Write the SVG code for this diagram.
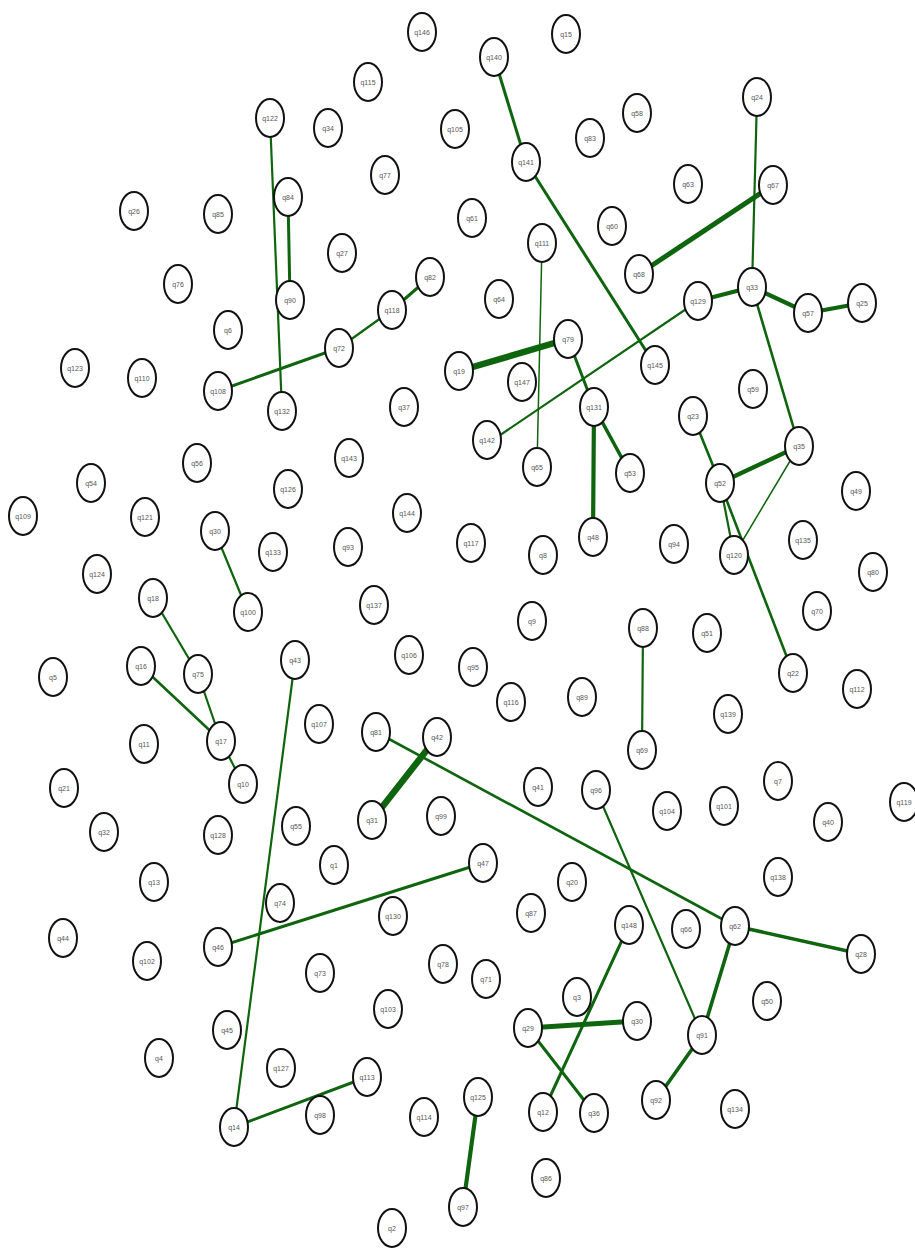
<svg xmlns="http://www.w3.org/2000/svg" width="915" height="1248" viewBox="0 0 915 1248">
<style>
.e line{stroke:#0e650e;stroke-linecap:round}
.n ellipse{fill:#fff;stroke:#111;stroke-width:2}
.n text{font-family:"Liberation Sans",Arial,sans-serif;font-size:7px;fill:#555;text-anchor:middle}
.w1{stroke-width:1.5}.w2{stroke-width:2.2}.w25{stroke-width:2.6}.w3{stroke-width:3}.w35{stroke-width:3.6}.w4{stroke-width:4.2}.w5{stroke-width:5}.w6{stroke-width:6.5}
</style>
<rect width="915" height="1248" fill="#fff"/>
<g id="connectors" class="e">
<line class="w3" x1="494" y1="57" x2="526" y2="162"/>
<line class="w3" x1="526" y1="162" x2="655" y2="365"/>
<line class="w2" x1="270" y1="118" x2="282" y2="411"/>
<line class="w3" x1="288" y1="197" x2="290" y2="300"/>
<line class="w3" x1="430" y1="277" x2="392" y2="310"/>
<line class="w2" x1="392" y1="310" x2="339" y2="348"/>
<line class="w3" x1="339" y1="348" x2="218" y2="391"/>
<line class="w1" x1="542" y1="243" x2="537" y2="467"/>
<line class="w6" x1="459" y1="371" x2="568" y2="339"/>
<line class="w3" x1="568" y1="339" x2="594" y2="407"/>
<line class="w35" x1="594" y1="407" x2="630" y2="473"/>
<line class="w4" x1="594" y1="407" x2="593" y2="537"/>
<line class="w2" x1="698" y1="301" x2="487" y2="444"/>
<line class="w2" x1="757" y1="97" x2="752" y2="287"/>
<line class="w5" x1="773" y1="185" x2="639" y2="274"/>
<line class="w4" x1="698" y1="301" x2="752" y2="287"/>
<line class="w4" x1="752" y1="287" x2="808" y2="313"/>
<line class="w4" x1="808" y1="313" x2="862" y2="303"/>
<line class="w25" x1="752" y1="287" x2="799" y2="446"/>
<line class="w25" x1="693" y1="416" x2="720" y2="483"/>
<line class="w4" x1="720" y1="483" x2="799" y2="446"/>
<line class="w1" x1="799" y1="446" x2="734" y2="555"/>
<line class="w2" x1="720" y1="483" x2="734" y2="555"/>
<line class="w25" x1="720" y1="483" x2="793" y2="673"/>
<line class="w2" x1="215" y1="532" x2="248" y2="612"/>
<line class="w2" x1="153" y1="598" x2="198" y2="674"/>
<line class="w2" x1="198" y1="674" x2="221" y2="741"/>
<line class="w25" x1="141" y1="666" x2="221" y2="741"/>
<line class="w2" x1="221" y1="741" x2="243" y2="784"/>
<line class="w2" x1="295" y1="660" x2="234" y2="1127"/>
<line class="w25" x1="376" y1="732" x2="735" y2="926"/>
<line class="w6" x1="437" y1="737" x2="372" y2="820"/>
<line class="w3" x1="483" y1="863" x2="218" y2="947"/>
<line class="w2" x1="643" y1="628" x2="642" y2="750"/>
<line class="w2" x1="596" y1="790" x2="702" y2="1035"/>
<line class="w35" x1="735" y1="926" x2="861" y2="954"/>
<line class="w35" x1="735" y1="926" x2="702" y2="1035"/>
<line class="w35" x1="702" y1="1035" x2="656" y2="1100"/>
<line class="w3" x1="629" y1="925" x2="543" y2="1112"/>
<line class="w5" x1="528" y1="1028" x2="637" y2="1021"/>
<line class="w3" x1="528" y1="1028" x2="594" y2="1113"/>
<line class="w3" x1="367" y1="1077" x2="234" y2="1127"/>
<line class="w4" x1="478" y1="1097" x2="463" y2="1207"/>
</g>
<g id="q146" class="n"><ellipse cx="422" cy="32" rx="14" ry="19"/><text x="422" y="34.5">q146</text></g>
<g id="q15" class="n"><ellipse cx="566" cy="34" rx="14" ry="19"/><text x="566" y="36.5">q15</text></g>
<g id="q140" class="n"><ellipse cx="494" cy="57" rx="14" ry="19"/><text x="494" y="59.5">q140</text></g>
<g id="q115" class="n"><ellipse cx="368" cy="82" rx="14" ry="19"/><text x="368" y="84.5">q115</text></g>
<g id="q24" class="n"><ellipse cx="757" cy="97" rx="14" ry="19"/><text x="757" y="99.5">q24</text></g>
<g id="q58" class="n"><ellipse cx="637" cy="113" rx="14" ry="19"/><text x="637" y="115.5">q58</text></g>
<g id="q122" class="n"><ellipse cx="270" cy="118" rx="14" ry="19"/><text x="270" y="120.5">q122</text></g>
<g id="q34" class="n"><ellipse cx="328" cy="128" rx="14" ry="19"/><text x="328" y="130.5">q34</text></g>
<g id="q105" class="n"><ellipse cx="455" cy="129" rx="14" ry="19"/><text x="455" y="131.5">q105</text></g>
<g id="q83" class="n"><ellipse cx="590" cy="138" rx="14" ry="19"/><text x="590" y="140.5">q83</text></g>
<g id="q141" class="n"><ellipse cx="526" cy="162" rx="14" ry="19"/><text x="526" y="164.5">q141</text></g>
<g id="q77" class="n"><ellipse cx="385" cy="175" rx="14" ry="19"/><text x="385" y="177.5">q77</text></g>
<g id="q63" class="n"><ellipse cx="688" cy="184" rx="14" ry="19"/><text x="688" y="186.5">q63</text></g>
<g id="q67" class="n"><ellipse cx="773" cy="185" rx="14" ry="19"/><text x="773" y="187.5">q67</text></g>
<g id="q84" class="n"><ellipse cx="288" cy="197" rx="14" ry="19"/><text x="288" y="199.5">q84</text></g>
<g id="q26" class="n"><ellipse cx="134" cy="211" rx="14" ry="19"/><text x="134" y="213.5">q26</text></g>
<g id="q85" class="n"><ellipse cx="218" cy="214" rx="14" ry="19"/><text x="218" y="216.5">q85</text></g>
<g id="q61" class="n"><ellipse cx="472" cy="218" rx="14" ry="19"/><text x="472" y="220.5">q61</text></g>
<g id="q60" class="n"><ellipse cx="612" cy="226" rx="14" ry="19"/><text x="612" y="228.5">q60</text></g>
<g id="q111" class="n"><ellipse cx="542" cy="243" rx="14" ry="19"/><text x="542" y="245.5">q111</text></g>
<g id="q27" class="n"><ellipse cx="342" cy="253" rx="14" ry="19"/><text x="342" y="255.5">q27</text></g>
<g id="q68" class="n"><ellipse cx="639" cy="274" rx="14" ry="19"/><text x="639" y="276.5">q68</text></g>
<g id="q82" class="n"><ellipse cx="430" cy="277" rx="14" ry="19"/><text x="430" y="279.5">q82</text></g>
<g id="q76" class="n"><ellipse cx="178" cy="284" rx="14" ry="19"/><text x="178" y="286.5">q76</text></g>
<g id="q33" class="n"><ellipse cx="752" cy="287" rx="14" ry="19"/><text x="752" y="289.5">q33</text></g>
<g id="q64" class="n"><ellipse cx="499" cy="299" rx="14" ry="19"/><text x="499" y="301.5">q64</text></g>
<g id="q90" class="n"><ellipse cx="290" cy="300" rx="14" ry="19"/><text x="290" y="302.5">q90</text></g>
<g id="q129" class="n"><ellipse cx="698" cy="301" rx="14" ry="19"/><text x="698" y="303.5">q129</text></g>
<g id="q25" class="n"><ellipse cx="862" cy="303" rx="14" ry="19"/><text x="862" y="305.5">q25</text></g>
<g id="q118" class="n"><ellipse cx="392" cy="310" rx="14" ry="19"/><text x="392" y="312.5">q118</text></g>
<g id="q57" class="n"><ellipse cx="808" cy="313" rx="14" ry="19"/><text x="808" y="315.5">q57</text></g>
<g id="q6" class="n"><ellipse cx="228" cy="330" rx="14" ry="19"/><text x="228" y="332.5">q6</text></g>
<g id="q79" class="n"><ellipse cx="568" cy="339" rx="14" ry="19"/><text x="568" y="341.5">q79</text></g>
<g id="q72" class="n"><ellipse cx="339" cy="348" rx="14" ry="19"/><text x="339" y="350.5">q72</text></g>
<g id="q145" class="n"><ellipse cx="655" cy="365" rx="14" ry="19"/><text x="655" y="367.5">q145</text></g>
<g id="q123" class="n"><ellipse cx="75" cy="368" rx="14" ry="19"/><text x="75" y="370.5">q123</text></g>
<g id="q19" class="n"><ellipse cx="459" cy="371" rx="14" ry="19"/><text x="459" y="373.5">q19</text></g>
<g id="q110" class="n"><ellipse cx="142" cy="378" rx="14" ry="19"/><text x="142" y="380.5">q110</text></g>
<g id="q147" class="n"><ellipse cx="522" cy="382" rx="14" ry="19"/><text x="522" y="384.5">q147</text></g>
<g id="q59" class="n"><ellipse cx="753" cy="389" rx="14" ry="19"/><text x="753" y="391.5">q59</text></g>
<g id="q108" class="n"><ellipse cx="218" cy="391" rx="14" ry="19"/><text x="218" y="393.5">q108</text></g>
<g id="q37" class="n"><ellipse cx="404" cy="407" rx="14" ry="19"/><text x="404" y="409.5">q37</text></g>
<g id="q131" class="n"><ellipse cx="594" cy="407" rx="14" ry="19"/><text x="594" y="409.5">q131</text></g>
<g id="q132" class="n"><ellipse cx="282" cy="411" rx="14" ry="19"/><text x="282" y="413.5">q132</text></g>
<g id="q23" class="n"><ellipse cx="693" cy="416" rx="14" ry="19"/><text x="693" y="418.5">q23</text></g>
<g id="q142" class="n"><ellipse cx="487" cy="440" rx="14" ry="19"/><text x="487" y="442.5">q142</text></g>
<g id="q35" class="n"><ellipse cx="799" cy="446" rx="14" ry="19"/><text x="799" y="448.5">q35</text></g>
<g id="q143" class="n"><ellipse cx="349" cy="458" rx="14" ry="19"/><text x="349" y="460.5">q143</text></g>
<g id="q56" class="n"><ellipse cx="197" cy="463" rx="14" ry="19"/><text x="197" y="465.5">q56</text></g>
<g id="q65" class="n"><ellipse cx="537" cy="467" rx="14" ry="19"/><text x="537" y="469.5">q65</text></g>
<g id="q53" class="n"><ellipse cx="630" cy="473" rx="14" ry="19"/><text x="630" y="475.5">q53</text></g>
<g id="q52" class="n"><ellipse cx="720" cy="483" rx="14" ry="19"/><text x="720" y="485.5">q52</text></g>
<g id="q54" class="n"><ellipse cx="91" cy="483" rx="14" ry="19"/><text x="91" y="485.5">q54</text></g>
<g id="q126" class="n"><ellipse cx="288" cy="489" rx="14" ry="19"/><text x="288" y="491.5">q126</text></g>
<g id="q49" class="n"><ellipse cx="856" cy="491" rx="14" ry="19"/><text x="856" y="493.5">q49</text></g>
<g id="q144" class="n"><ellipse cx="407" cy="513" rx="14" ry="19"/><text x="407" y="515.5">q144</text></g>
<g id="q109" class="n"><ellipse cx="23" cy="516" rx="14" ry="19"/><text x="23" y="518.5">q109</text></g>
<g id="q121" class="n"><ellipse cx="145" cy="517" rx="14" ry="19"/><text x="145" y="519.5">q121</text></g>
<g id="q30" class="n"><ellipse cx="215" cy="531" rx="14" ry="19"/><text x="215" y="533.5">q30</text></g>
<g id="q48" class="n"><ellipse cx="593" cy="537" rx="14" ry="19"/><text x="593" y="539.5">q48</text></g>
<g id="q135" class="n"><ellipse cx="803" cy="540" rx="14" ry="19"/><text x="803" y="542.5">q135</text></g>
<g id="q117" class="n"><ellipse cx="471" cy="543" rx="14" ry="19"/><text x="471" y="545.5">q117</text></g>
<g id="q94" class="n"><ellipse cx="674" cy="544" rx="14" ry="19"/><text x="674" y="546.5">q94</text></g>
<g id="q93" class="n"><ellipse cx="348" cy="547" rx="14" ry="19"/><text x="348" y="549.5">q93</text></g>
<g id="q133" class="n"><ellipse cx="273" cy="552" rx="14" ry="19"/><text x="273" y="554.5">q133</text></g>
<g id="q8" class="n"><ellipse cx="543" cy="555" rx="14" ry="19"/><text x="543" y="557.5">q8</text></g>
<g id="q120" class="n"><ellipse cx="734" cy="555" rx="14" ry="19"/><text x="734" y="557.5">q120</text></g>
<g id="q80" class="n"><ellipse cx="873" cy="572" rx="14" ry="19"/><text x="873" y="574.5">q80</text></g>
<g id="q124" class="n"><ellipse cx="97" cy="574" rx="14" ry="19"/><text x="97" y="576.5">q124</text></g>
<g id="q18" class="n"><ellipse cx="153" cy="598" rx="14" ry="19"/><text x="153" y="600.5">q18</text></g>
<g id="q137" class="n"><ellipse cx="374" cy="605" rx="14" ry="19"/><text x="374" y="607.5">q137</text></g>
<g id="q70" class="n"><ellipse cx="817" cy="611" rx="14" ry="19"/><text x="817" y="613.5">q70</text></g>
<g id="q100" class="n"><ellipse cx="248" cy="612" rx="14" ry="19"/><text x="248" y="614.5">q100</text></g>
<g id="q9" class="n"><ellipse cx="532" cy="621" rx="14" ry="19"/><text x="532" y="623.5">q9</text></g>
<g id="q88" class="n"><ellipse cx="643" cy="628" rx="14" ry="19"/><text x="643" y="630.5">q88</text></g>
<g id="q51" class="n"><ellipse cx="707" cy="633" rx="14" ry="19"/><text x="707" y="635.5">q51</text></g>
<g id="q106" class="n"><ellipse cx="409" cy="655" rx="14" ry="19"/><text x="409" y="657.5">q106</text></g>
<g id="q43" class="n"><ellipse cx="295" cy="660" rx="14" ry="19"/><text x="295" y="662.5">q43</text></g>
<g id="q16" class="n"><ellipse cx="141" cy="666" rx="14" ry="19"/><text x="141" y="668.5">q16</text></g>
<g id="q95" class="n"><ellipse cx="473" cy="667" rx="14" ry="19"/><text x="473" y="669.5">q95</text></g>
<g id="q22" class="n"><ellipse cx="793" cy="673" rx="14" ry="19"/><text x="793" y="675.5">q22</text></g>
<g id="q75" class="n"><ellipse cx="198" cy="674" rx="14" ry="19"/><text x="198" y="676.5">q75</text></g>
<g id="q5" class="n"><ellipse cx="53" cy="677" rx="14" ry="19"/><text x="53" y="679.5">q5</text></g>
<g id="q112" class="n"><ellipse cx="857" cy="689" rx="14" ry="19"/><text x="857" y="691.5">q112</text></g>
<g id="q89" class="n"><ellipse cx="582" cy="697" rx="14" ry="19"/><text x="582" y="699.5">q89</text></g>
<g id="q116" class="n"><ellipse cx="511" cy="702" rx="14" ry="19"/><text x="511" y="704.5">q116</text></g>
<g id="q139" class="n"><ellipse cx="728" cy="714" rx="14" ry="19"/><text x="728" y="716.5">q139</text></g>
<g id="q107" class="n"><ellipse cx="319" cy="724" rx="14" ry="19"/><text x="319" y="726.5">q107</text></g>
<g id="q81" class="n"><ellipse cx="376" cy="732" rx="14" ry="19"/><text x="376" y="734.5">q81</text></g>
<g id="q42" class="n"><ellipse cx="437" cy="737" rx="14" ry="19"/><text x="437" y="739.5">q42</text></g>
<g id="q17" class="n"><ellipse cx="221" cy="741" rx="14" ry="19"/><text x="221" y="743.5">q17</text></g>
<g id="q11" class="n"><ellipse cx="144" cy="744" rx="14" ry="19"/><text x="144" y="746.5">q11</text></g>
<g id="q69" class="n"><ellipse cx="642" cy="750" rx="14" ry="19"/><text x="642" y="752.5">q69</text></g>
<g id="q7" class="n"><ellipse cx="778" cy="781" rx="14" ry="19"/><text x="778" y="783.5">q7</text></g>
<g id="q10" class="n"><ellipse cx="243" cy="784" rx="14" ry="19"/><text x="243" y="786.5">q10</text></g>
<g id="q41" class="n"><ellipse cx="538" cy="787" rx="14" ry="19"/><text x="538" y="789.5">q41</text></g>
<g id="q21" class="n"><ellipse cx="64" cy="788" rx="14" ry="19"/><text x="64" y="790.5">q21</text></g>
<g id="q96" class="n"><ellipse cx="596" cy="790" rx="14" ry="19"/><text x="596" y="792.5">q96</text></g>
<g id="q119" class="n"><ellipse cx="904" cy="802" rx="14" ry="19"/><text x="904" y="804.5">q119</text></g>
<g id="q101" class="n"><ellipse cx="724" cy="806" rx="14" ry="19"/><text x="724" y="808.5">q101</text></g>
<g id="q104" class="n"><ellipse cx="667" cy="811" rx="14" ry="19"/><text x="667" y="813.5">q104</text></g>
<g id="q99" class="n"><ellipse cx="441" cy="816" rx="14" ry="19"/><text x="441" y="818.5">q99</text></g>
<g id="q31" class="n"><ellipse cx="372" cy="820" rx="14" ry="19"/><text x="372" y="822.5">q31</text></g>
<g id="q40" class="n"><ellipse cx="828" cy="822" rx="14" ry="19"/><text x="828" y="824.5">q40</text></g>
<g id="q55" class="n"><ellipse cx="296" cy="826" rx="14" ry="19"/><text x="296" y="828.5">q55</text></g>
<g id="q32" class="n"><ellipse cx="104" cy="832" rx="14" ry="19"/><text x="104" y="834.5">q32</text></g>
<g id="q128" class="n"><ellipse cx="218" cy="835" rx="14" ry="19"/><text x="218" y="837.5">q128</text></g>
<g id="q47" class="n"><ellipse cx="483" cy="863" rx="14" ry="19"/><text x="483" y="865.5">q47</text></g>
<g id="q1" class="n"><ellipse cx="334" cy="865" rx="14" ry="19"/><text x="334" y="867.5">q1</text></g>
<g id="q138" class="n"><ellipse cx="778" cy="877" rx="14" ry="19"/><text x="778" y="879.5">q138</text></g>
<g id="q13" class="n"><ellipse cx="154" cy="882" rx="14" ry="19"/><text x="154" y="884.5">q13</text></g>
<g id="q20" class="n"><ellipse cx="572" cy="882" rx="14" ry="19"/><text x="572" y="884.5">q20</text></g>
<g id="q74" class="n"><ellipse cx="280" cy="903" rx="14" ry="19"/><text x="280" y="905.5">q74</text></g>
<g id="q87" class="n"><ellipse cx="531" cy="913" rx="14" ry="19"/><text x="531" y="915.5">q87</text></g>
<g id="q130" class="n"><ellipse cx="393" cy="916" rx="14" ry="19"/><text x="393" y="918.5">q130</text></g>
<g id="q148" class="n"><ellipse cx="629" cy="925" rx="14" ry="19"/><text x="629" y="927.5">q148</text></g>
<g id="q62" class="n"><ellipse cx="735" cy="926" rx="14" ry="19"/><text x="735" y="928.5">q62</text></g>
<g id="q66" class="n"><ellipse cx="686" cy="929" rx="14" ry="19"/><text x="686" y="931.5">q66</text></g>
<g id="q44" class="n"><ellipse cx="63" cy="938" rx="14" ry="19"/><text x="63" y="940.5">q44</text></g>
<g id="q46" class="n"><ellipse cx="218" cy="947" rx="14" ry="19"/><text x="218" y="949.5">q46</text></g>
<g id="q28" class="n"><ellipse cx="861" cy="954" rx="14" ry="19"/><text x="861" y="956.5">q28</text></g>
<g id="q102" class="n"><ellipse cx="147" cy="961" rx="14" ry="19"/><text x="147" y="963.5">q102</text></g>
<g id="q78" class="n"><ellipse cx="443" cy="964" rx="14" ry="19"/><text x="443" y="966.5">q78</text></g>
<g id="q73" class="n"><ellipse cx="320" cy="973" rx="14" ry="19"/><text x="320" y="975.5">q73</text></g>
<g id="q71" class="n"><ellipse cx="486" cy="979" rx="14" ry="19"/><text x="486" y="981.5">q71</text></g>
<g id="q3" class="n"><ellipse cx="577" cy="997" rx="14" ry="19"/><text x="577" y="999.5">q3</text></g>
<g id="q50" class="n"><ellipse cx="767" cy="1001" rx="14" ry="19"/><text x="767" y="1003.5">q50</text></g>
<g id="q103" class="n"><ellipse cx="388" cy="1009" rx="14" ry="19"/><text x="388" y="1011.5">q103</text></g>
<g id="q30b" class="n"><ellipse cx="637" cy="1021" rx="14" ry="19"/><text x="637" y="1023.5">q30</text></g>
<g id="q29" class="n"><ellipse cx="528" cy="1028" rx="14" ry="19"/><text x="528" y="1030.5">q29</text></g>
<g id="q45" class="n"><ellipse cx="227" cy="1030" rx="14" ry="19"/><text x="227" y="1032.5">q45</text></g>
<g id="q91" class="n"><ellipse cx="702" cy="1035" rx="14" ry="19"/><text x="702" y="1037.5">q91</text></g>
<g id="q4" class="n"><ellipse cx="159" cy="1058" rx="14" ry="19"/><text x="159" y="1060.5">q4</text></g>
<g id="q127" class="n"><ellipse cx="281" cy="1068" rx="14" ry="19"/><text x="281" y="1070.5">q127</text></g>
<g id="q113" class="n"><ellipse cx="367" cy="1077" rx="14" ry="19"/><text x="367" y="1079.5">q113</text></g>
<g id="q125" class="n"><ellipse cx="478" cy="1097" rx="14" ry="19"/><text x="478" y="1099.5">q125</text></g>
<g id="q92" class="n"><ellipse cx="656" cy="1100" rx="14" ry="19"/><text x="656" y="1102.5">q92</text></g>
<g id="q134" class="n"><ellipse cx="735" cy="1109" rx="14" ry="19"/><text x="735" y="1111.5">q134</text></g>
<g id="q12" class="n"><ellipse cx="543" cy="1112" rx="14" ry="19"/><text x="543" y="1114.5">q12</text></g>
<g id="q36" class="n"><ellipse cx="594" cy="1113" rx="14" ry="19"/><text x="594" y="1115.5">q36</text></g>
<g id="q98" class="n"><ellipse cx="320" cy="1115" rx="14" ry="19"/><text x="320" y="1117.5">q98</text></g>
<g id="q114" class="n"><ellipse cx="424" cy="1117" rx="14" ry="19"/><text x="424" y="1119.5">q114</text></g>
<g id="q14" class="n"><ellipse cx="234" cy="1127" rx="14" ry="19"/><text x="234" y="1129.5">q14</text></g>
<g id="q86" class="n"><ellipse cx="546" cy="1178" rx="14" ry="19"/><text x="546" y="1180.5">q86</text></g>
<g id="q97" class="n"><ellipse cx="463" cy="1207" rx="14" ry="19"/><text x="463" y="1209.5">q97</text></g>
<g id="q2" class="n"><ellipse cx="392" cy="1228" rx="14" ry="19"/><text x="392" y="1230.5">q2</text></g>
</svg>
